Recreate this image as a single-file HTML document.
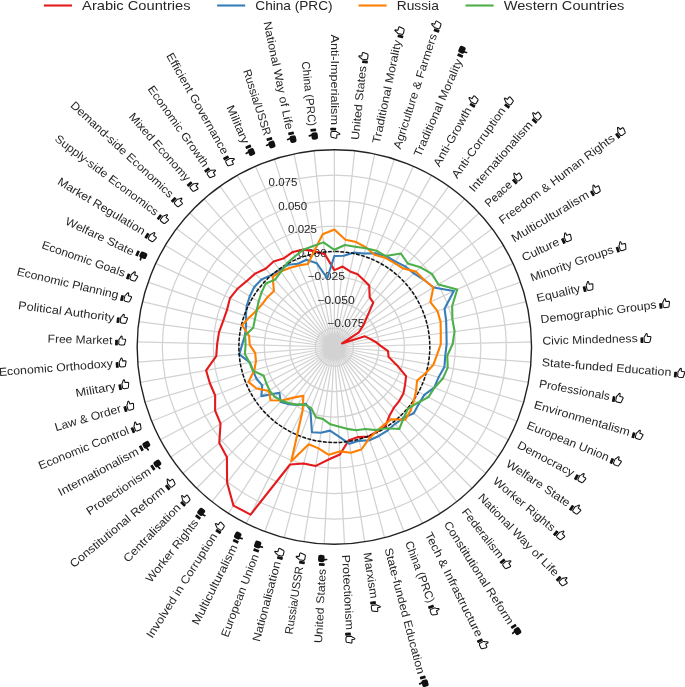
<!DOCTYPE html><html><head><meta charset="utf-8"><style>html,body{margin:0;padding:0;background:#fff;overflow:hidden}svg{display:block;font-family:"Liberation Sans", sans-serif;will-change:transform}</style></head><body><svg width="685" height="687" viewBox="0 0 685 687">
<rect width="685" height="687" fill="#fff"/>
<path d="M334.35,347.00L334.35,149.80M334.35,347.00L354.63,150.85M334.35,347.00L374.69,153.97M334.35,347.00L394.32,159.14M334.35,347.00L413.32,166.30M334.35,347.00L431.48,175.38M334.35,347.00L448.61,186.28M334.35,347.00L464.53,198.88M334.35,347.00L479.07,213.05M334.35,347.00L492.08,228.64M334.35,347.00L503.41,245.48M334.35,347.00L512.95,263.40M334.35,347.00L520.60,282.21M334.35,347.00L526.28,301.71M334.35,347.00L529.92,321.68M334.35,347.00L531.48,341.92M334.35,347.00L530.96,362.22M334.35,347.00L528.35,382.35M334.35,347.00L523.69,402.11M334.35,347.00L517.02,421.29M334.35,347.00L508.41,439.68M334.35,347.00L497.96,457.09M334.35,347.00L485.78,473.32M334.35,347.00L471.98,488.23M334.35,347.00L456.73,501.63M334.35,347.00L440.19,513.39M334.35,347.00L422.52,523.39M334.35,347.00L403.91,531.52M334.35,347.00L384.57,537.70M334.35,347.00L364.70,541.85M334.35,347.00L344.50,543.94M334.35,347.00L324.20,543.94M334.35,347.00L304.00,541.85M334.35,347.00L284.13,537.70M334.35,347.00L264.79,531.52M334.35,347.00L246.18,523.39M334.35,347.00L228.51,513.39M334.35,347.00L211.97,501.63M334.35,347.00L196.72,488.23M334.35,347.00L182.92,473.32M334.35,347.00L170.74,457.09M334.35,347.00L160.29,439.68M334.35,347.00L151.68,421.29M334.35,347.00L145.01,402.11M334.35,347.00L140.35,382.35M334.35,347.00L137.74,362.22M334.35,347.00L137.22,341.92M334.35,347.00L138.78,321.68M334.35,347.00L142.42,301.71M334.35,347.00L148.10,282.21M334.35,347.00L155.75,263.40M334.35,347.00L165.29,245.48M334.35,347.00L176.62,228.64M334.35,347.00L189.63,213.05M334.35,347.00L204.17,198.88M334.35,347.00L220.09,186.28M334.35,347.00L237.22,175.38M334.35,347.00L255.38,166.30M334.35,347.00L274.38,159.14M334.35,347.00L294.01,153.97M334.35,347.00L314.07,150.85" stroke="#d2d2d2" stroke-width="1.25" fill="none"/>
<circle cx="334.35" cy="347.0" r="19.00" stroke="#d2d2d2" stroke-width="1.25" fill="none"/>
<circle cx="334.35" cy="347.0" r="44.50" stroke="#d2d2d2" stroke-width="1.25" fill="none"/>
<circle cx="334.35" cy="347.0" r="70.00" stroke="#d2d2d2" stroke-width="1.25" fill="none"/>
<circle cx="334.35" cy="347.0" r="95.50" stroke="#d2d2d2" stroke-width="1.25" fill="none"/>
<circle cx="334.35" cy="347.0" r="121.00" stroke="#d2d2d2" stroke-width="1.25" fill="none"/>
<circle cx="334.35" cy="347.0" r="146.50" stroke="#d2d2d2" stroke-width="1.25" fill="none"/>
<circle cx="334.35" cy="347.0" r="172.00" stroke="#d2d2d2" stroke-width="1.25" fill="none"/>
<text x="327.08" y="327.35" font-size="10.5" textLength="37.38" lengthAdjust="spacingAndGlyphs" fill="#262626">−0.075</text>
<text x="317.32" y="303.79" font-size="10.5" textLength="37.38" lengthAdjust="spacingAndGlyphs" fill="#262626">−0.050</text>
<text x="307.56" y="280.23" font-size="10.5" textLength="37.38" lengthAdjust="spacingAndGlyphs" fill="#262626">−0.025</text>
<text x="297.80" y="256.67" font-size="10.5" textLength="28.91" lengthAdjust="spacingAndGlyphs" fill="#262626">0.000</text>
<text x="288.05" y="233.11" font-size="10.5" textLength="28.91" lengthAdjust="spacingAndGlyphs" fill="#262626">0.025</text>
<text x="278.29" y="209.55" font-size="10.5" textLength="28.91" lengthAdjust="spacingAndGlyphs" fill="#262626">0.050</text>
<text x="268.53" y="185.99" font-size="10.5" textLength="28.91" lengthAdjust="spacingAndGlyphs" fill="#262626">0.075</text>
<path d="M334.35,270.12 L342.67,266.51 L350.14,271.45 L357.61,274.15 L363.66,279.94 L369.20,285.42 L369.68,297.31 L373.28,302.70 L367.15,316.64 L363.37,325.22 L358.86,332.28 L342.00,343.42 L364.89,336.37 L369.62,338.68 L375.19,341.71 L380.68,345.81 L388.05,351.16 L388.56,356.88 L396.88,365.20 L406.08,376.17 L405.08,384.66 L403.43,393.48 L399.15,401.06 L393.75,407.95 L389.20,416.30 L385.11,426.81 L376.68,431.69 L368.14,436.64 L358.08,437.10 L348.86,440.14 L339.89,454.46 L328.55,459.56 L315.83,465.92 L303.68,463.45 L290.05,464.52 L250.58,514.59 L233.46,505.62 L227.07,482.54 L226.93,457.22 L219.26,443.01 L220.53,423.58 L215.10,410.50 L215.15,395.48 L209.88,383.23 L206.11,370.37 L216.25,356.14 L217.15,343.98 L219.03,332.07 L223.21,320.77 L227.04,309.67 L230.00,298.16 L237.45,288.81 L246.61,281.16 L255.08,273.63 L265.55,268.71 L273.61,261.56 L284.10,258.22 L292.80,251.93 L303.26,249.61 L314.32,251.14 L324.75,254.12 Z" stroke="#e41a1c" stroke-width="2.1" fill="none" stroke-linejoin="round"/>
<path d="M334.35,256.04 L343.78,255.77 L354.08,252.59 L364.21,253.47 L375.26,253.39 L385.84,256.02 L395.16,261.47 L405.16,266.43 L413.90,273.37 L423.92,279.79 L433.51,287.46 L453.83,291.08 L444.54,308.67 L446.15,320.61 L446.44,332.49 L446.63,344.11 L445.30,355.59 L444.40,367.05 L438.57,377.34 L434.18,387.60 L424.33,394.91 L418.84,403.85 L413.76,413.25 L403.41,417.86 L395.15,423.81 L387.50,430.55 L378.83,435.98 L369.49,440.20 L359.06,440.85 L349.42,443.77 L338.98,436.74 L330.04,430.64 L321.00,432.69 L311.91,432.22 L310.42,410.48 L305.99,403.75 L297.55,404.85 L289.09,404.19 L280.71,402.04 L279.42,392.82 L261.35,396.12 L262.26,385.38 L256.43,378.69 L252.99,370.68 L249.80,362.41 L239.32,354.36 L242.12,344.62 L244.94,335.42 L246.10,326.17 L245.87,316.22 L246.69,305.97 L249.76,296.20 L254.30,286.93 L261.47,279.55 L271.17,275.11 L279.74,270.18 L287.84,264.81 L297.98,263.78 L306.47,259.68 L316.86,263.33 L327.24,278.24 Z" stroke="#377eb8" stroke-width="2.1" fill="none" stroke-linejoin="round"/>
<path d="M334.35,251.50 A95.50,95.50 0 0 1 334.35,442.50 A95.50,95.50 0 0 1 334.35,251.50" stroke="#111" stroke-width="1.5" fill="none" stroke-dasharray="3.7 1.583" stroke-dashoffset="-0.81"/>
<path d="M334.35,229.54 L345.43,239.78 L356.27,242.09 L366.12,247.48 L374.65,254.78 L384.92,257.64 L394.10,262.95 L403.35,268.50 L415.79,271.62 L424.00,279.73 L433.34,287.56 L430.38,302.05 L437.50,311.12 L440.62,321.92 L440.75,333.22 L440.79,344.26 L437.01,354.95 L433.26,365.03 L425.33,373.48 L417.05,380.63 L416.13,390.55 L414.00,400.59 L410.56,410.58 L405.27,419.77 L391.48,419.18 L383.90,424.90 L376.47,431.27 L368.97,438.84 L361.34,449.49 L350.82,452.78 L339.73,451.38 L328.79,454.81 L318.56,448.40 L308.75,444.20 L291.29,461.23 L302.61,410.50 L303.39,395.68 L294.48,397.38 L282.18,400.53 L270.54,400.23 L268.96,391.00 L256.43,388.49 L248.45,381.93 L254.33,370.29 L255.96,361.28 L255.24,353.12 L249.70,344.82 L249.15,335.97 L242.08,325.22 L249.25,317.40 L256.47,310.55 L262.46,303.83 L267.64,296.94 L273.94,291.09 L272.62,276.76 L280.61,271.41 L289.63,267.98 L298.69,265.41 L307.83,263.92 L314.31,251.09 L322.69,234.19 Z" stroke="#ff7f00" stroke-width="2.1" fill="none" stroke-linejoin="round"/>
<path d="M334.35,249.78 L344.90,244.97 L355.29,246.80 L365.88,248.24 L376.40,250.78 L385.83,256.05 L400.81,253.52 L407.73,263.51 L420.42,267.34 L431.89,273.81 L438.53,284.44 L457.23,289.48 L452.17,306.02 L452.40,319.14 L454.60,331.43 L452.64,343.95 L447.27,355.74 L447.72,367.66 L442.81,378.57 L434.51,387.73 L428.41,397.08 L417.52,402.96 L408.13,408.55 L403.61,418.06 L399.26,429.01 L386.03,428.25 L375.88,430.09 L365.28,429.05 L356.29,430.33 L347.10,428.84 L338.45,426.47 L330.36,424.33 L323.12,419.09 L315.83,417.33 L311.32,408.10 L305.41,404.90 L297.67,404.67 L289.76,403.34 L281.87,400.85 L274.71,396.75 L269.62,390.55 L266.31,383.23 L263.71,375.73 L252.99,370.68 L249.43,362.48 L244.89,353.92 L245.58,344.71 L245.08,335.44 L253.22,327.85 L254.86,319.35 L256.70,310.65 L258.58,301.50 L261.59,292.40 L265.72,283.48 L275.14,279.62 L280.94,271.88 L286.95,263.25 L294.79,256.47 L303.29,249.69 L313.25,246.04 L323.54,242.38 Z" stroke="#4daf4a" stroke-width="2.1" fill="none" stroke-linejoin="round"/>
<circle cx="334.35" cy="347.0" r="197.20" stroke="#222" stroke-width="1.4" fill="none"/>
<g transform="translate(334.35,347.0) rotate(-270.000)"><text x="-312.53" y="3.0" font-size="11.4" textLength="90.43" lengthAdjust="spacingAndGlyphs" fill="#262626">Anti-Imperialism</text><g transform="translate(-219.50,3.0)"><rect x="0.2" y="-4.7" width="2.8" height="5.7" rx="0.5" fill="#111"/><path d="M3.9,-4.9 L4.6,-5.8 L5.9,-8.1 Q6.5,-8.9 7.0,-8.2 L7.2,-5.5 L10.1,-5.4 Q10.9,-5.2 10.7,-4.4 L9.7,-0.3 Q9.4,0.5 8.6,0.5 L5.3,0.5 L3.9,-0.3 Z" fill="#fff" stroke="#111" stroke-width="1.05" stroke-linejoin="round"/></g></g>
<g transform="translate(334.35,347.0) rotate(-84.098)"><text x="208.10" y="3.0" font-size="11.4" textLength="74.49" lengthAdjust="spacingAndGlyphs" fill="#262626">United States</text><g transform="translate(285.19,3.0)"><rect x="0.2" y="-4.7" width="2.8" height="5.7" rx="0.5" fill="#111"/><path d="M3.9,-4.9 L4.6,-5.8 L5.9,-8.1 Q6.5,-8.9 7.0,-8.2 L7.2,-5.5 L10.1,-5.4 Q10.9,-5.2 10.7,-4.4 L9.7,-0.3 Q9.4,0.5 8.6,0.5 L5.3,0.5 L3.9,-0.3 Z" fill="#fff" stroke="#111" stroke-width="1.05" stroke-linejoin="round"/></g></g>
<g transform="translate(334.35,347.0) rotate(-78.197)"><text x="208.10" y="3.0" font-size="11.4" textLength="105.19" lengthAdjust="spacingAndGlyphs" fill="#262626">Traditional Morality</text><g transform="translate(315.89,3.0)"><rect x="0.2" y="-4.7" width="2.8" height="5.7" rx="0.5" fill="#111"/><path d="M3.9,-4.9 L4.6,-5.8 L5.9,-8.1 Q6.5,-8.9 7.0,-8.2 L7.2,-5.5 L10.1,-5.4 Q10.9,-5.2 10.7,-4.4 L9.7,-0.3 Q9.4,0.5 8.6,0.5 L5.3,0.5 L3.9,-0.3 Z" fill="#fff" stroke="#111" stroke-width="1.05" stroke-linejoin="round"/></g></g>
<g transform="translate(334.35,347.0) rotate(-72.295)"><text x="208.10" y="3.0" font-size="11.4" textLength="120.19" lengthAdjust="spacingAndGlyphs" fill="#262626">Agriculture &amp; Farmers</text><g transform="translate(330.89,3.0)"><rect x="0.2" y="-4.7" width="2.8" height="5.7" rx="0.5" fill="#111"/><path d="M3.9,-4.9 L4.6,-5.8 L5.9,-8.1 Q6.5,-8.9 7.0,-8.2 L7.2,-5.5 L10.1,-5.4 Q10.9,-5.2 10.7,-4.4 L9.7,-0.3 Q9.4,0.5 8.6,0.5 L5.3,0.5 L3.9,-0.3 Z" fill="#fff" stroke="#111" stroke-width="1.05" stroke-linejoin="round"/></g></g>
<g transform="translate(334.35,347.0) rotate(-66.393)"><text x="208.10" y="3.0" font-size="11.4" textLength="105.19" lengthAdjust="spacingAndGlyphs" fill="#262626">Traditional Morality</text><g transform="translate(315.89,3.0)"><rect x="0.2" y="-7.2" width="2.8" height="5.7" rx="0.5" fill="#111"/><rect x="4.0" y="-8.3" width="7.2" height="6.4" rx="2.0" fill="#111"/><path d="M6.3,-3.0 L6.9,0.2" stroke="#111" stroke-width="1.7" stroke-linecap="round"/></g></g>
<g transform="translate(334.35,347.0) rotate(-60.492)"><text x="208.10" y="3.0" font-size="11.4" textLength="66.06" lengthAdjust="spacingAndGlyphs" fill="#262626">Anti-Growth</text><g transform="translate(276.76,3.0)"><rect x="0.2" y="-4.7" width="2.8" height="5.7" rx="0.5" fill="#111"/><path d="M3.9,-4.9 L4.6,-5.8 L5.9,-8.1 Q6.5,-8.9 7.0,-8.2 L7.2,-5.5 L10.1,-5.4 Q10.9,-5.2 10.7,-4.4 L9.7,-0.3 Q9.4,0.5 8.6,0.5 L5.3,0.5 L3.9,-0.3 Z" fill="#fff" stroke="#111" stroke-width="1.05" stroke-linejoin="round"/></g></g>
<g transform="translate(334.35,347.0) rotate(-54.590)"><text x="208.10" y="3.0" font-size="11.4" textLength="84.12" lengthAdjust="spacingAndGlyphs" fill="#262626">Anti-Corruption</text><g transform="translate(294.82,3.0)"><rect x="0.2" y="-4.7" width="2.8" height="5.7" rx="0.5" fill="#111"/><path d="M3.9,-4.9 L4.6,-5.8 L5.9,-8.1 Q6.5,-8.9 7.0,-8.2 L7.2,-5.5 L10.1,-5.4 Q10.9,-5.2 10.7,-4.4 L9.7,-0.3 Q9.4,0.5 8.6,0.5 L5.3,0.5 L3.9,-0.3 Z" fill="#fff" stroke="#111" stroke-width="1.05" stroke-linejoin="round"/></g></g>
<g transform="translate(334.35,347.0) rotate(-48.689)"><text x="208.10" y="3.0" font-size="11.4" textLength="89.71" lengthAdjust="spacingAndGlyphs" fill="#262626">Internationalism</text><g transform="translate(300.41,3.0)"><rect x="0.2" y="-4.7" width="2.8" height="5.7" rx="0.5" fill="#111"/><path d="M3.9,-4.9 L4.6,-5.8 L5.9,-8.1 Q6.5,-8.9 7.0,-8.2 L7.2,-5.5 L10.1,-5.4 Q10.9,-5.2 10.7,-4.4 L9.7,-0.3 Q9.4,0.5 8.6,0.5 L5.3,0.5 L3.9,-0.3 Z" fill="#fff" stroke="#111" stroke-width="1.05" stroke-linejoin="round"/></g></g>
<g transform="translate(334.35,347.0) rotate(-42.787)"><text x="208.10" y="3.0" font-size="11.4" textLength="32.57" lengthAdjust="spacingAndGlyphs" fill="#262626">Peace</text><g transform="translate(243.27,3.0)"><rect x="0.2" y="-4.7" width="2.8" height="5.7" rx="0.5" fill="#111"/><path d="M3.9,-4.9 L4.6,-5.8 L5.9,-8.1 Q6.5,-8.9 7.0,-8.2 L7.2,-5.5 L10.1,-5.4 Q10.9,-5.2 10.7,-4.4 L9.7,-0.3 Q9.4,0.5 8.6,0.5 L5.3,0.5 L3.9,-0.3 Z" fill="#fff" stroke="#111" stroke-width="1.05" stroke-linejoin="round"/></g></g>
<g transform="translate(334.35,347.0) rotate(-36.885)"><text x="208.10" y="3.0" font-size="11.4" textLength="141.21" lengthAdjust="spacingAndGlyphs" fill="#262626">Freedom &amp; Human Rights</text><g transform="translate(351.91,3.0)"><rect x="0.2" y="-4.7" width="2.8" height="5.7" rx="0.5" fill="#111"/><path d="M3.9,-4.9 L4.6,-5.8 L5.9,-8.1 Q6.5,-8.9 7.0,-8.2 L7.2,-5.5 L10.1,-5.4 Q10.9,-5.2 10.7,-4.4 L9.7,-0.3 Q9.4,0.5 8.6,0.5 L5.3,0.5 L3.9,-0.3 Z" fill="#fff" stroke="#111" stroke-width="1.05" stroke-linejoin="round"/></g></g>
<g transform="translate(334.35,347.0) rotate(-30.984)"><text x="208.10" y="3.0" font-size="11.4" textLength="88.07" lengthAdjust="spacingAndGlyphs" fill="#262626">Multiculturalism</text><g transform="translate(298.77,3.0)"><rect x="0.2" y="-4.7" width="2.8" height="5.7" rx="0.5" fill="#111"/><path d="M3.9,-4.9 L4.6,-5.8 L5.9,-8.1 Q6.5,-8.9 7.0,-8.2 L7.2,-5.5 L10.1,-5.4 Q10.9,-5.2 10.7,-4.4 L9.7,-0.3 Q9.4,0.5 8.6,0.5 L5.3,0.5 L3.9,-0.3 Z" fill="#fff" stroke="#111" stroke-width="1.05" stroke-linejoin="round"/></g></g>
<g transform="translate(334.35,347.0) rotate(-25.082)"><text x="208.10" y="3.0" font-size="11.4" textLength="40.04" lengthAdjust="spacingAndGlyphs" fill="#262626">Culture</text><g transform="translate(250.74,3.0)"><rect x="0.2" y="-4.7" width="2.8" height="5.7" rx="0.5" fill="#111"/><path d="M3.9,-4.9 L4.6,-5.8 L5.9,-8.1 Q6.5,-8.9 7.0,-8.2 L7.2,-5.5 L10.1,-5.4 Q10.9,-5.2 10.7,-4.4 L9.7,-0.3 Q9.4,0.5 8.6,0.5 L5.3,0.5 L3.9,-0.3 Z" fill="#fff" stroke="#111" stroke-width="1.05" stroke-linejoin="round"/></g></g>
<g transform="translate(334.35,347.0) rotate(-19.180)"><text x="208.10" y="3.0" font-size="11.4" textLength="87.37" lengthAdjust="spacingAndGlyphs" fill="#262626">Minority Groups</text><g transform="translate(298.07,3.0)"><rect x="0.2" y="-4.7" width="2.8" height="5.7" rx="0.5" fill="#111"/><path d="M3.9,-4.9 L4.6,-5.8 L5.9,-8.1 Q6.5,-8.9 7.0,-8.2 L7.2,-5.5 L10.1,-5.4 Q10.9,-5.2 10.7,-4.4 L9.7,-0.3 Q9.4,0.5 8.6,0.5 L5.3,0.5 L3.9,-0.3 Z" fill="#fff" stroke="#111" stroke-width="1.05" stroke-linejoin="round"/></g></g>
<g transform="translate(334.35,347.0) rotate(-13.279)"><text x="208.10" y="3.0" font-size="11.4" textLength="44.58" lengthAdjust="spacingAndGlyphs" fill="#262626">Equality</text><g transform="translate(255.28,3.0)"><rect x="0.2" y="-4.7" width="2.8" height="5.7" rx="0.5" fill="#111"/><path d="M3.9,-4.9 L4.6,-5.8 L5.9,-8.1 Q6.5,-8.9 7.0,-8.2 L7.2,-5.5 L10.1,-5.4 Q10.9,-5.2 10.7,-4.4 L9.7,-0.3 Q9.4,0.5 8.6,0.5 L5.3,0.5 L3.9,-0.3 Z" fill="#fff" stroke="#111" stroke-width="1.05" stroke-linejoin="round"/></g></g>
<g transform="translate(334.35,347.0) rotate(-7.377)"><text x="208.10" y="3.0" font-size="11.4" textLength="116.71" lengthAdjust="spacingAndGlyphs" fill="#262626">Demographic Groups</text><g transform="translate(327.41,3.0)"><rect x="0.2" y="-4.7" width="2.8" height="5.7" rx="0.5" fill="#111"/><path d="M3.9,-4.9 L4.6,-5.8 L5.9,-8.1 Q6.5,-8.9 7.0,-8.2 L7.2,-5.5 L10.1,-5.4 Q10.9,-5.2 10.7,-4.4 L9.7,-0.3 Q9.4,0.5 8.6,0.5 L5.3,0.5 L3.9,-0.3 Z" fill="#fff" stroke="#111" stroke-width="1.05" stroke-linejoin="round"/></g></g>
<g transform="translate(334.35,347.0) rotate(-1.475)"><text x="208.10" y="3.0" font-size="11.4" textLength="95.30" lengthAdjust="spacingAndGlyphs" fill="#262626">Civic Mindedness</text><g transform="translate(306.00,3.0)"><rect x="0.2" y="-4.7" width="2.8" height="5.7" rx="0.5" fill="#111"/><path d="M3.9,-4.9 L4.6,-5.8 L5.9,-8.1 Q6.5,-8.9 7.0,-8.2 L7.2,-5.5 L10.1,-5.4 Q10.9,-5.2 10.7,-4.4 L9.7,-0.3 Q9.4,0.5 8.6,0.5 L5.3,0.5 L3.9,-0.3 Z" fill="#fff" stroke="#111" stroke-width="1.05" stroke-linejoin="round"/></g></g>
<g transform="translate(334.35,347.0) rotate(4.426)"><text x="208.10" y="3.0" font-size="11.4" textLength="129.90" lengthAdjust="spacingAndGlyphs" fill="#262626">State-funded Education</text><g transform="translate(340.60,3.0)"><rect x="0.2" y="-4.7" width="2.8" height="5.7" rx="0.5" fill="#111"/><path d="M3.9,-4.9 L4.6,-5.8 L5.9,-8.1 Q6.5,-8.9 7.0,-8.2 L7.2,-5.5 L10.1,-5.4 Q10.9,-5.2 10.7,-4.4 L9.7,-0.3 Q9.4,0.5 8.6,0.5 L5.3,0.5 L3.9,-0.3 Z" fill="#fff" stroke="#111" stroke-width="1.05" stroke-linejoin="round"/></g></g>
<g transform="translate(334.35,347.0) rotate(10.328)"><text x="208.10" y="3.0" font-size="11.4" textLength="71.84" lengthAdjust="spacingAndGlyphs" fill="#262626">Professionals</text><g transform="translate(282.54,3.0)"><rect x="0.2" y="-4.7" width="2.8" height="5.7" rx="0.5" fill="#111"/><path d="M3.9,-4.9 L4.6,-5.8 L5.9,-8.1 Q6.5,-8.9 7.0,-8.2 L7.2,-5.5 L10.1,-5.4 Q10.9,-5.2 10.7,-4.4 L9.7,-0.3 Q9.4,0.5 8.6,0.5 L5.3,0.5 L3.9,-0.3 Z" fill="#fff" stroke="#111" stroke-width="1.05" stroke-linejoin="round"/></g></g>
<g transform="translate(334.35,347.0) rotate(16.230)"><text x="208.10" y="3.0" font-size="11.4" textLength="99.54" lengthAdjust="spacingAndGlyphs" fill="#262626">Environmentalism</text><g transform="translate(310.24,3.0)"><rect x="0.2" y="-4.7" width="2.8" height="5.7" rx="0.5" fill="#111"/><path d="M3.9,-4.9 L4.6,-5.8 L5.9,-8.1 Q6.5,-8.9 7.0,-8.2 L7.2,-5.5 L10.1,-5.4 Q10.9,-5.2 10.7,-4.4 L9.7,-0.3 Q9.4,0.5 8.6,0.5 L5.3,0.5 L3.9,-0.3 Z" fill="#fff" stroke="#111" stroke-width="1.05" stroke-linejoin="round"/></g></g>
<g transform="translate(334.35,347.0) rotate(22.131)"><text x="208.10" y="3.0" font-size="11.4" textLength="87.67" lengthAdjust="spacingAndGlyphs" fill="#262626">European Union</text><g transform="translate(298.37,3.0)"><rect x="0.2" y="-4.7" width="2.8" height="5.7" rx="0.5" fill="#111"/><path d="M3.9,-4.9 L4.6,-5.8 L5.9,-8.1 Q6.5,-8.9 7.0,-8.2 L7.2,-5.5 L10.1,-5.4 Q10.9,-5.2 10.7,-4.4 L9.7,-0.3 Q9.4,0.5 8.6,0.5 L5.3,0.5 L3.9,-0.3 Z" fill="#fff" stroke="#111" stroke-width="1.05" stroke-linejoin="round"/></g></g>
<g transform="translate(334.35,347.0) rotate(28.033)"><text x="208.10" y="3.0" font-size="11.4" textLength="62.55" lengthAdjust="spacingAndGlyphs" fill="#262626">Democracy</text><g transform="translate(273.25,3.0)"><rect x="0.2" y="-4.7" width="2.8" height="5.7" rx="0.5" fill="#111"/><path d="M3.9,-4.9 L4.6,-5.8 L5.9,-8.1 Q6.5,-8.9 7.0,-8.2 L7.2,-5.5 L10.1,-5.4 Q10.9,-5.2 10.7,-4.4 L9.7,-0.3 Q9.4,0.5 8.6,0.5 L5.3,0.5 L3.9,-0.3 Z" fill="#fff" stroke="#111" stroke-width="1.05" stroke-linejoin="round"/></g></g>
<g transform="translate(334.35,347.0) rotate(33.934)"><text x="208.10" y="3.0" font-size="11.4" textLength="74.33" lengthAdjust="spacingAndGlyphs" fill="#262626">Welfare State</text><g transform="translate(285.03,3.0)"><rect x="0.2" y="-4.7" width="2.8" height="5.7" rx="0.5" fill="#111"/><path d="M3.9,-4.9 L4.6,-5.8 L5.9,-8.1 Q6.5,-8.9 7.0,-8.2 L7.2,-5.5 L10.1,-5.4 Q10.9,-5.2 10.7,-4.4 L9.7,-0.3 Q9.4,0.5 8.6,0.5 L5.3,0.5 L3.9,-0.3 Z" fill="#fff" stroke="#111" stroke-width="1.05" stroke-linejoin="round"/></g></g>
<g transform="translate(334.35,347.0) rotate(39.836)"><text x="208.10" y="3.0" font-size="11.4" textLength="76.95" lengthAdjust="spacingAndGlyphs" fill="#262626">Worker Rights</text><g transform="translate(287.65,3.0)"><rect x="0.2" y="-4.7" width="2.8" height="5.7" rx="0.5" fill="#111"/><path d="M3.9,-4.9 L4.6,-5.8 L5.9,-8.1 Q6.5,-8.9 7.0,-8.2 L7.2,-5.5 L10.1,-5.4 Q10.9,-5.2 10.7,-4.4 L9.7,-0.3 Q9.4,0.5 8.6,0.5 L5.3,0.5 L3.9,-0.3 Z" fill="#fff" stroke="#111" stroke-width="1.05" stroke-linejoin="round"/></g></g>
<g transform="translate(334.35,347.0) rotate(45.738)"><text x="208.10" y="3.0" font-size="11.4" textLength="110.18" lengthAdjust="spacingAndGlyphs" fill="#262626">National Way of Life</text><g transform="translate(320.88,3.0)"><rect x="0.2" y="-4.7" width="2.8" height="5.7" rx="0.5" fill="#111"/><path d="M3.9,-4.9 L4.6,-5.8 L5.9,-8.1 Q6.5,-8.9 7.0,-8.2 L7.2,-5.5 L10.1,-5.4 Q10.9,-5.2 10.7,-4.4 L9.7,-0.3 Q9.4,0.5 8.6,0.5 L5.3,0.5 L3.9,-0.3 Z" fill="#fff" stroke="#111" stroke-width="1.05" stroke-linejoin="round"/></g></g>
<g transform="translate(334.35,347.0) rotate(51.639)"><text x="208.10" y="3.0" font-size="11.4" textLength="60.07" lengthAdjust="spacingAndGlyphs" fill="#262626">Federalism</text><g transform="translate(270.77,3.0)"><rect x="0.2" y="-4.7" width="2.8" height="5.7" rx="0.5" fill="#111"/><path d="M3.9,-4.9 L4.6,-5.8 L5.9,-8.1 Q6.5,-8.9 7.0,-8.2 L7.2,-5.5 L10.1,-5.4 Q10.9,-5.2 10.7,-4.4 L9.7,-0.3 Q9.4,0.5 8.6,0.5 L5.3,0.5 L3.9,-0.3 Z" fill="#fff" stroke="#111" stroke-width="1.05" stroke-linejoin="round"/></g></g>
<g transform="translate(334.35,347.0) rotate(57.541)"><text x="208.10" y="3.0" font-size="11.4" textLength="119.70" lengthAdjust="spacingAndGlyphs" fill="#262626">Constitutional Reform</text><g transform="translate(330.40,3.0)"><rect x="0.2" y="-7.2" width="2.8" height="5.7" rx="0.5" fill="#111"/><rect x="4.0" y="-8.3" width="7.2" height="6.4" rx="2.0" fill="#111"/><path d="M6.3,-3.0 L6.9,0.2" stroke="#111" stroke-width="1.7" stroke-linecap="round"/></g></g>
<g transform="translate(334.35,347.0) rotate(63.443)"><text x="208.10" y="3.0" font-size="11.4" textLength="115.48" lengthAdjust="spacingAndGlyphs" fill="#262626">Tech &amp; Infrastructure</text><g transform="translate(326.18,3.0)"><rect x="0.2" y="-4.7" width="2.8" height="5.7" rx="0.5" fill="#111"/><path d="M3.9,-4.9 L4.6,-5.8 L5.9,-8.1 Q6.5,-8.9 7.0,-8.2 L7.2,-5.5 L10.1,-5.4 Q10.9,-5.2 10.7,-4.4 L9.7,-0.3 Q9.4,0.5 8.6,0.5 L5.3,0.5 L3.9,-0.3 Z" fill="#fff" stroke="#111" stroke-width="1.05" stroke-linejoin="round"/></g></g>
<g transform="translate(334.35,347.0) rotate(69.344)"><text x="208.10" y="3.0" font-size="11.4" textLength="64.91" lengthAdjust="spacingAndGlyphs" fill="#262626">China (PRC)</text><g transform="translate(275.61,3.0)"><rect x="0.2" y="-4.7" width="2.8" height="5.7" rx="0.5" fill="#111"/><path d="M3.9,-4.9 L4.6,-5.8 L5.9,-8.1 Q6.5,-8.9 7.0,-8.2 L7.2,-5.5 L10.1,-5.4 Q10.9,-5.2 10.7,-4.4 L9.7,-0.3 Q9.4,0.5 8.6,0.5 L5.3,0.5 L3.9,-0.3 Z" fill="#fff" stroke="#111" stroke-width="1.05" stroke-linejoin="round"/></g></g>
<g transform="translate(334.35,347.0) rotate(75.246)"><text x="208.10" y="3.0" font-size="11.4" textLength="129.90" lengthAdjust="spacingAndGlyphs" fill="#262626">State-funded Education</text><g transform="translate(340.60,3.0)"><rect x="0.2" y="-7.2" width="2.8" height="5.7" rx="0.5" fill="#111"/><rect x="4.0" y="-8.3" width="7.2" height="6.4" rx="2.0" fill="#111"/><path d="M6.3,-3.0 L6.9,0.2" stroke="#111" stroke-width="1.7" stroke-linecap="round"/></g></g>
<g transform="translate(334.35,347.0) rotate(81.148)"><text x="208.10" y="3.0" font-size="11.4" textLength="46.47" lengthAdjust="spacingAndGlyphs" fill="#262626">Marxism</text><g transform="translate(257.17,3.0)"><rect x="0.2" y="-4.7" width="2.8" height="5.7" rx="0.5" fill="#111"/><path d="M3.9,-4.9 L4.6,-5.8 L5.9,-8.1 Q6.5,-8.9 7.0,-8.2 L7.2,-5.5 L10.1,-5.4 Q10.9,-5.2 10.7,-4.4 L9.7,-0.3 Q9.4,0.5 8.6,0.5 L5.3,0.5 L3.9,-0.3 Z" fill="#fff" stroke="#111" stroke-width="1.05" stroke-linejoin="round"/></g></g>
<g transform="translate(334.35,347.0) rotate(87.049)"><text x="208.10" y="3.0" font-size="11.4" textLength="75.15" lengthAdjust="spacingAndGlyphs" fill="#262626">Protectionism</text><g transform="translate(285.85,3.0)"><rect x="0.2" y="-4.7" width="2.8" height="5.7" rx="0.5" fill="#111"/><path d="M3.9,-4.9 L4.6,-5.8 L5.9,-8.1 Q6.5,-8.9 7.0,-8.2 L7.2,-5.5 L10.1,-5.4 Q10.9,-5.2 10.7,-4.4 L9.7,-0.3 Q9.4,0.5 8.6,0.5 L5.3,0.5 L3.9,-0.3 Z" fill="#fff" stroke="#111" stroke-width="1.05" stroke-linejoin="round"/></g></g>
<g transform="translate(334.35,347.0) rotate(-87.049)"><text x="-296.59" y="3.0" font-size="11.4" textLength="74.49" lengthAdjust="spacingAndGlyphs" fill="#262626">United States</text><g transform="translate(-219.50,3.0)"><rect x="0.2" y="-7.2" width="2.8" height="5.7" rx="0.5" fill="#111"/><rect x="4.0" y="-8.3" width="7.2" height="6.4" rx="2.0" fill="#111"/><path d="M6.3,-3.0 L6.9,0.2" stroke="#111" stroke-width="1.7" stroke-linecap="round"/></g></g>
<g transform="translate(334.35,347.0) rotate(-81.148)"><text x="-290.85" y="3.0" font-size="11.4" textLength="68.75" lengthAdjust="spacingAndGlyphs" fill="#262626">Russia/USSR</text><g transform="translate(-219.50,3.0)"><rect x="0.2" y="-4.7" width="2.8" height="5.7" rx="0.5" fill="#111"/><path d="M3.9,-4.9 L4.6,-5.8 L5.9,-8.1 Q6.5,-8.9 7.0,-8.2 L7.2,-5.5 L10.1,-5.4 Q10.9,-5.2 10.7,-4.4 L9.7,-0.3 Q9.4,0.5 8.6,0.5 L5.3,0.5 L3.9,-0.3 Z" fill="#fff" stroke="#111" stroke-width="1.05" stroke-linejoin="round"/></g></g>
<g transform="translate(334.35,347.0) rotate(-75.246)"><text x="-304.54" y="3.0" font-size="11.4" textLength="82.44" lengthAdjust="spacingAndGlyphs" fill="#262626">Nationalisation</text><g transform="translate(-219.50,3.0)"><rect x="0.2" y="-4.7" width="2.8" height="5.7" rx="0.5" fill="#111"/><path d="M3.9,-4.9 L4.6,-5.8 L5.9,-8.1 Q6.5,-8.9 7.0,-8.2 L7.2,-5.5 L10.1,-5.4 Q10.9,-5.2 10.7,-4.4 L9.7,-0.3 Q9.4,0.5 8.6,0.5 L5.3,0.5 L3.9,-0.3 Z" fill="#fff" stroke="#111" stroke-width="1.05" stroke-linejoin="round"/></g></g>
<g transform="translate(334.35,347.0) rotate(-69.344)"><text x="-309.77" y="3.0" font-size="11.4" textLength="87.67" lengthAdjust="spacingAndGlyphs" fill="#262626">European Union</text><g transform="translate(-219.50,3.0)"><rect x="0.2" y="-7.2" width="2.8" height="5.7" rx="0.5" fill="#111"/><rect x="4.0" y="-8.3" width="7.2" height="6.4" rx="2.0" fill="#111"/><path d="M6.3,-3.0 L6.9,0.2" stroke="#111" stroke-width="1.7" stroke-linecap="round"/></g></g>
<g transform="translate(334.35,347.0) rotate(-63.443)"><text x="-310.17" y="3.0" font-size="11.4" textLength="88.07" lengthAdjust="spacingAndGlyphs" fill="#262626">Multiculturalism</text><g transform="translate(-219.50,3.0)"><rect x="0.2" y="-7.2" width="2.8" height="5.7" rx="0.5" fill="#111"/><rect x="4.0" y="-8.3" width="7.2" height="6.4" rx="2.0" fill="#111"/><path d="M6.3,-3.0 L6.9,0.2" stroke="#111" stroke-width="1.7" stroke-linecap="round"/></g></g>
<g transform="translate(334.35,347.0) rotate(-57.541)"><text x="-344.18" y="3.0" font-size="11.4" textLength="122.08" lengthAdjust="spacingAndGlyphs" fill="#262626">Involved in Corruption</text><g transform="translate(-219.50,3.0)"><rect x="0.2" y="-4.7" width="2.8" height="5.7" rx="0.5" fill="#111"/><path d="M3.9,-4.9 L4.6,-5.8 L5.9,-8.1 Q6.5,-8.9 7.0,-8.2 L7.2,-5.5 L10.1,-5.4 Q10.9,-5.2 10.7,-4.4 L9.7,-0.3 Q9.4,0.5 8.6,0.5 L5.3,0.5 L3.9,-0.3 Z" fill="#fff" stroke="#111" stroke-width="1.05" stroke-linejoin="round"/></g></g>
<g transform="translate(334.35,347.0) rotate(-51.639)"><text x="-299.05" y="3.0" font-size="11.4" textLength="76.95" lengthAdjust="spacingAndGlyphs" fill="#262626">Worker Rights</text><g transform="translate(-219.50,3.0)"><rect x="0.2" y="-7.2" width="2.8" height="5.7" rx="0.5" fill="#111"/><rect x="4.0" y="-8.3" width="7.2" height="6.4" rx="2.0" fill="#111"/><path d="M6.3,-3.0 L6.9,0.2" stroke="#111" stroke-width="1.7" stroke-linecap="round"/></g></g>
<g transform="translate(334.35,347.0) rotate(-45.738)"><text x="-298.75" y="3.0" font-size="11.4" textLength="76.65" lengthAdjust="spacingAndGlyphs" fill="#262626">Centralisation</text><g transform="translate(-219.50,3.0)"><rect x="0.2" y="-4.7" width="2.8" height="5.7" rx="0.5" fill="#111"/><path d="M3.9,-4.9 L4.6,-5.8 L5.9,-8.1 Q6.5,-8.9 7.0,-8.2 L7.2,-5.5 L10.1,-5.4 Q10.9,-5.2 10.7,-4.4 L9.7,-0.3 Q9.4,0.5 8.6,0.5 L5.3,0.5 L3.9,-0.3 Z" fill="#fff" stroke="#111" stroke-width="1.05" stroke-linejoin="round"/></g></g>
<g transform="translate(334.35,347.0) rotate(-39.836)"><text x="-341.80" y="3.0" font-size="11.4" textLength="119.70" lengthAdjust="spacingAndGlyphs" fill="#262626">Constitutional Reform</text><g transform="translate(-219.50,3.0)"><rect x="0.2" y="-4.7" width="2.8" height="5.7" rx="0.5" fill="#111"/><path d="M3.9,-4.9 L4.6,-5.8 L5.9,-8.1 Q6.5,-8.9 7.0,-8.2 L7.2,-5.5 L10.1,-5.4 Q10.9,-5.2 10.7,-4.4 L9.7,-0.3 Q9.4,0.5 8.6,0.5 L5.3,0.5 L3.9,-0.3 Z" fill="#fff" stroke="#111" stroke-width="1.05" stroke-linejoin="round"/></g></g>
<g transform="translate(334.35,347.0) rotate(-33.934)"><text x="-297.25" y="3.0" font-size="11.4" textLength="75.15" lengthAdjust="spacingAndGlyphs" fill="#262626">Protectionism</text><g transform="translate(-219.50,3.0)"><rect x="0.2" y="-7.2" width="2.8" height="5.7" rx="0.5" fill="#111"/><rect x="4.0" y="-8.3" width="7.2" height="6.4" rx="2.0" fill="#111"/><path d="M6.3,-3.0 L6.9,0.2" stroke="#111" stroke-width="1.7" stroke-linecap="round"/></g></g>
<g transform="translate(334.35,347.0) rotate(-28.033)"><text x="-311.81" y="3.0" font-size="11.4" textLength="89.71" lengthAdjust="spacingAndGlyphs" fill="#262626">Internationalism</text><g transform="translate(-219.50,3.0)"><rect x="0.2" y="-7.2" width="2.8" height="5.7" rx="0.5" fill="#111"/><rect x="4.0" y="-8.3" width="7.2" height="6.4" rx="2.0" fill="#111"/><path d="M6.3,-3.0 L6.9,0.2" stroke="#111" stroke-width="1.7" stroke-linecap="round"/></g></g>
<g transform="translate(334.35,347.0) rotate(-22.131)"><text x="-318.61" y="3.0" font-size="11.4" textLength="96.51" lengthAdjust="spacingAndGlyphs" fill="#262626">Economic Control</text><g transform="translate(-219.50,3.0)"><rect x="0.2" y="-4.7" width="2.8" height="5.7" rx="0.5" fill="#111"/><path d="M3.9,-4.9 L4.6,-5.8 L5.9,-8.1 Q6.5,-8.9 7.0,-8.2 L7.2,-5.5 L10.1,-5.4 Q10.9,-5.2 10.7,-4.4 L9.7,-0.3 Q9.4,0.5 8.6,0.5 L5.3,0.5 L3.9,-0.3 Z" fill="#fff" stroke="#111" stroke-width="1.05" stroke-linejoin="round"/></g></g>
<g transform="translate(334.35,347.0) rotate(-16.230)"><text x="-290.80" y="3.0" font-size="11.4" textLength="68.70" lengthAdjust="spacingAndGlyphs" fill="#262626">Law &amp; Order</text><g transform="translate(-219.50,3.0)"><rect x="0.2" y="-4.7" width="2.8" height="5.7" rx="0.5" fill="#111"/><path d="M3.9,-4.9 L4.6,-5.8 L5.9,-8.1 Q6.5,-8.9 7.0,-8.2 L7.2,-5.5 L10.1,-5.4 Q10.9,-5.2 10.7,-4.4 L9.7,-0.3 Q9.4,0.5 8.6,0.5 L5.3,0.5 L3.9,-0.3 Z" fill="#fff" stroke="#111" stroke-width="1.05" stroke-linejoin="round"/></g></g>
<g transform="translate(334.35,347.0) rotate(-10.328)"><text x="-262.85" y="3.0" font-size="11.4" textLength="40.75" lengthAdjust="spacingAndGlyphs" fill="#262626">Military</text><g transform="translate(-219.50,3.0)"><rect x="0.2" y="-4.7" width="2.8" height="5.7" rx="0.5" fill="#111"/><path d="M3.9,-4.9 L4.6,-5.8 L5.9,-8.1 Q6.5,-8.9 7.0,-8.2 L7.2,-5.5 L10.1,-5.4 Q10.9,-5.2 10.7,-4.4 L9.7,-0.3 Q9.4,0.5 8.6,0.5 L5.3,0.5 L3.9,-0.3 Z" fill="#fff" stroke="#111" stroke-width="1.05" stroke-linejoin="round"/></g></g>
<g transform="translate(334.35,347.0) rotate(-4.426)"><text x="-336.44" y="3.0" font-size="11.4" textLength="114.34" lengthAdjust="spacingAndGlyphs" fill="#262626">Economic Orthodoxy</text><g transform="translate(-219.50,3.0)"><rect x="0.2" y="-4.7" width="2.8" height="5.7" rx="0.5" fill="#111"/><path d="M3.9,-4.9 L4.6,-5.8 L5.9,-8.1 Q6.5,-8.9 7.0,-8.2 L7.2,-5.5 L10.1,-5.4 Q10.9,-5.2 10.7,-4.4 L9.7,-0.3 Q9.4,0.5 8.6,0.5 L5.3,0.5 L3.9,-0.3 Z" fill="#fff" stroke="#111" stroke-width="1.05" stroke-linejoin="round"/></g></g>
<g transform="translate(334.35,347.0) rotate(1.475)"><text x="-286.75" y="3.0" font-size="11.4" textLength="64.65" lengthAdjust="spacingAndGlyphs" fill="#262626">Free Market</text><g transform="translate(-219.50,3.0)"><rect x="0.2" y="-4.7" width="2.8" height="5.7" rx="0.5" fill="#111"/><path d="M3.9,-4.9 L4.6,-5.8 L5.9,-8.1 Q6.5,-8.9 7.0,-8.2 L7.2,-5.5 L10.1,-5.4 Q10.9,-5.2 10.7,-4.4 L9.7,-0.3 Q9.4,0.5 8.6,0.5 L5.3,0.5 L3.9,-0.3 Z" fill="#fff" stroke="#111" stroke-width="1.05" stroke-linejoin="round"/></g></g>
<g transform="translate(334.35,347.0) rotate(7.377)"><text x="-318.81" y="3.0" font-size="11.4" textLength="96.71" lengthAdjust="spacingAndGlyphs" fill="#262626">Political Authority</text><g transform="translate(-219.50,3.0)"><rect x="0.2" y="-4.7" width="2.8" height="5.7" rx="0.5" fill="#111"/><path d="M3.9,-4.9 L4.6,-5.8 L5.9,-8.1 Q6.5,-8.9 7.0,-8.2 L7.2,-5.5 L10.1,-5.4 Q10.9,-5.2 10.7,-4.4 L9.7,-0.3 Q9.4,0.5 8.6,0.5 L5.3,0.5 L3.9,-0.3 Z" fill="#fff" stroke="#111" stroke-width="1.05" stroke-linejoin="round"/></g></g>
<g transform="translate(334.35,347.0) rotate(13.279)"><text x="-326.23" y="3.0" font-size="11.4" textLength="104.13" lengthAdjust="spacingAndGlyphs" fill="#262626">Economic Planning</text><g transform="translate(-219.50,3.0)"><rect x="0.2" y="-4.7" width="2.8" height="5.7" rx="0.5" fill="#111"/><path d="M3.9,-4.9 L4.6,-5.8 L5.9,-8.1 Q6.5,-8.9 7.0,-8.2 L7.2,-5.5 L10.1,-5.4 Q10.9,-5.2 10.7,-4.4 L9.7,-0.3 Q9.4,0.5 8.6,0.5 L5.3,0.5 L3.9,-0.3 Z" fill="#fff" stroke="#111" stroke-width="1.05" stroke-linejoin="round"/></g></g>
<g transform="translate(334.35,347.0) rotate(19.180)"><text x="-309.63" y="3.0" font-size="11.4" textLength="87.53" lengthAdjust="spacingAndGlyphs" fill="#262626">Economic Goals</text><g transform="translate(-219.50,3.0)"><rect x="0.2" y="-4.7" width="2.8" height="5.7" rx="0.5" fill="#111"/><path d="M3.9,-4.9 L4.6,-5.8 L5.9,-8.1 Q6.5,-8.9 7.0,-8.2 L7.2,-5.5 L10.1,-5.4 Q10.9,-5.2 10.7,-4.4 L9.7,-0.3 Q9.4,0.5 8.6,0.5 L5.3,0.5 L3.9,-0.3 Z" fill="#fff" stroke="#111" stroke-width="1.05" stroke-linejoin="round"/></g></g>
<g transform="translate(334.35,347.0) rotate(25.082)"><text x="-296.43" y="3.0" font-size="11.4" textLength="74.33" lengthAdjust="spacingAndGlyphs" fill="#262626">Welfare State</text><g transform="translate(-219.50,3.0)"><rect x="0.2" y="-7.2" width="2.8" height="5.7" rx="0.5" fill="#111"/><rect x="4.0" y="-8.3" width="7.2" height="6.4" rx="2.0" fill="#111"/><path d="M6.3,-3.0 L6.9,0.2" stroke="#111" stroke-width="1.7" stroke-linecap="round"/></g></g>
<g transform="translate(334.35,347.0) rotate(30.984)"><text x="-322.15" y="3.0" font-size="11.4" textLength="100.05" lengthAdjust="spacingAndGlyphs" fill="#262626">Market Regulation</text><g transform="translate(-219.50,3.0)"><rect x="0.2" y="-4.7" width="2.8" height="5.7" rx="0.5" fill="#111"/><path d="M3.9,-4.9 L4.6,-5.8 L5.9,-8.1 Q6.5,-8.9 7.0,-8.2 L7.2,-5.5 L10.1,-5.4 Q10.9,-5.2 10.7,-4.4 L9.7,-0.3 Q9.4,0.5 8.6,0.5 L5.3,0.5 L3.9,-0.3 Z" fill="#fff" stroke="#111" stroke-width="1.05" stroke-linejoin="round"/></g></g>
<g transform="translate(334.35,347.0) rotate(36.885)"><text x="-348.38" y="3.0" font-size="11.4" textLength="126.28" lengthAdjust="spacingAndGlyphs" fill="#262626">Supply-side Economics</text><g transform="translate(-219.50,3.0)"><rect x="0.2" y="-4.7" width="2.8" height="5.7" rx="0.5" fill="#111"/><path d="M3.9,-4.9 L4.6,-5.8 L5.9,-8.1 Q6.5,-8.9 7.0,-8.2 L7.2,-5.5 L10.1,-5.4 Q10.9,-5.2 10.7,-4.4 L9.7,-0.3 Q9.4,0.5 8.6,0.5 L5.3,0.5 L3.9,-0.3 Z" fill="#fff" stroke="#111" stroke-width="1.05" stroke-linejoin="round"/></g></g>
<g transform="translate(334.35,347.0) rotate(42.787)"><text x="-357.73" y="3.0" font-size="11.4" textLength="135.63" lengthAdjust="spacingAndGlyphs" fill="#262626">Demand-side Economics</text><g transform="translate(-219.50,3.0)"><rect x="0.2" y="-4.7" width="2.8" height="5.7" rx="0.5" fill="#111"/><path d="M3.9,-4.9 L4.6,-5.8 L5.9,-8.1 Q6.5,-8.9 7.0,-8.2 L7.2,-5.5 L10.1,-5.4 Q10.9,-5.2 10.7,-4.4 L9.7,-0.3 Q9.4,0.5 8.6,0.5 L5.3,0.5 L3.9,-0.3 Z" fill="#fff" stroke="#111" stroke-width="1.05" stroke-linejoin="round"/></g></g>
<g transform="translate(334.35,347.0) rotate(48.689)"><text x="-308.72" y="3.0" font-size="11.4" textLength="86.62" lengthAdjust="spacingAndGlyphs" fill="#262626">Mixed Economy</text><g transform="translate(-219.50,3.0)"><rect x="0.2" y="-4.7" width="2.8" height="5.7" rx="0.5" fill="#111"/><path d="M3.9,-4.9 L4.6,-5.8 L5.9,-8.1 Q6.5,-8.9 7.0,-8.2 L7.2,-5.5 L10.1,-5.4 Q10.9,-5.2 10.7,-4.4 L9.7,-0.3 Q9.4,0.5 8.6,0.5 L5.3,0.5 L3.9,-0.3 Z" fill="#fff" stroke="#111" stroke-width="1.05" stroke-linejoin="round"/></g></g>
<g transform="translate(334.35,347.0) rotate(54.590)"><text x="-318.66" y="3.0" font-size="11.4" textLength="96.56" lengthAdjust="spacingAndGlyphs" fill="#262626">Economic Growth</text><g transform="translate(-219.50,3.0)"><rect x="0.2" y="-4.7" width="2.8" height="5.7" rx="0.5" fill="#111"/><path d="M3.9,-4.9 L4.6,-5.8 L5.9,-8.1 Q6.5,-8.9 7.0,-8.2 L7.2,-5.5 L10.1,-5.4 Q10.9,-5.2 10.7,-4.4 L9.7,-0.3 Q9.4,0.5 8.6,0.5 L5.3,0.5 L3.9,-0.3 Z" fill="#fff" stroke="#111" stroke-width="1.05" stroke-linejoin="round"/></g></g>
<g transform="translate(334.35,347.0) rotate(60.492)"><text x="-336.70" y="3.0" font-size="11.4" textLength="114.60" lengthAdjust="spacingAndGlyphs" fill="#262626">Efficient Governance</text><g transform="translate(-219.50,3.0)"><rect x="0.2" y="-4.7" width="2.8" height="5.7" rx="0.5" fill="#111"/><path d="M3.9,-4.9 L4.6,-5.8 L5.9,-8.1 Q6.5,-8.9 7.0,-8.2 L7.2,-5.5 L10.1,-5.4 Q10.9,-5.2 10.7,-4.4 L9.7,-0.3 Q9.4,0.5 8.6,0.5 L5.3,0.5 L3.9,-0.3 Z" fill="#fff" stroke="#111" stroke-width="1.05" stroke-linejoin="round"/></g></g>
<g transform="translate(334.35,347.0) rotate(66.393)"><text x="-262.85" y="3.0" font-size="11.4" textLength="40.75" lengthAdjust="spacingAndGlyphs" fill="#262626">Military</text><g transform="translate(-219.50,3.0)"><rect x="0.2" y="-7.2" width="2.8" height="5.7" rx="0.5" fill="#111"/><rect x="4.0" y="-8.3" width="7.2" height="6.4" rx="2.0" fill="#111"/><path d="M6.3,-3.0 L6.9,0.2" stroke="#111" stroke-width="1.7" stroke-linecap="round"/></g></g>
<g transform="translate(334.35,347.0) rotate(72.295)"><text x="-290.85" y="3.0" font-size="11.4" textLength="68.75" lengthAdjust="spacingAndGlyphs" fill="#262626">Russia/USSR</text><g transform="translate(-219.50,3.0)"><rect x="0.2" y="-7.2" width="2.8" height="5.7" rx="0.5" fill="#111"/><rect x="4.0" y="-8.3" width="7.2" height="6.4" rx="2.0" fill="#111"/><path d="M6.3,-3.0 L6.9,0.2" stroke="#111" stroke-width="1.7" stroke-linecap="round"/></g></g>
<g transform="translate(334.35,347.0) rotate(78.197)"><text x="-332.28" y="3.0" font-size="11.4" textLength="110.18" lengthAdjust="spacingAndGlyphs" fill="#262626">National Way of Life</text><g transform="translate(-219.50,3.0)"><rect x="0.2" y="-7.2" width="2.8" height="5.7" rx="0.5" fill="#111"/><rect x="4.0" y="-8.3" width="7.2" height="6.4" rx="2.0" fill="#111"/><path d="M6.3,-3.0 L6.9,0.2" stroke="#111" stroke-width="1.7" stroke-linecap="round"/></g></g>
<g transform="translate(334.35,347.0) rotate(84.098)"><text x="-287.01" y="3.0" font-size="11.4" textLength="64.91" lengthAdjust="spacingAndGlyphs" fill="#262626">China (PRC)</text><g transform="translate(-219.50,3.0)"><rect x="0.2" y="-7.2" width="2.8" height="5.7" rx="0.5" fill="#111"/><rect x="4.0" y="-8.3" width="7.2" height="6.4" rx="2.0" fill="#111"/><path d="M6.3,-3.0 L6.9,0.2" stroke="#111" stroke-width="1.7" stroke-linecap="round"/></g></g>
<line x1="43.9" y1="5.5" x2="72.0" y2="5.5" stroke="#e41a1c" stroke-width="2.1"/>
<text x="82.10" y="9.8" font-size="13.6" textLength="108.51" lengthAdjust="spacingAndGlyphs" fill="#262626">Arabic Countries</text>
<line x1="217.1" y1="5.5" x2="245.2" y2="5.5" stroke="#377eb8" stroke-width="2.1"/>
<text x="255.30" y="9.8" font-size="13.6" textLength="77.30" lengthAdjust="spacingAndGlyphs" fill="#262626">China (PRC)</text>
<line x1="358.5" y1="5.5" x2="386.6" y2="5.5" stroke="#ff7f00" stroke-width="2.1"/>
<text x="396.70" y="9.8" font-size="13.6" textLength="42.13" lengthAdjust="spacingAndGlyphs" fill="#262626">Russia</text>
<line x1="465.5" y1="5.5" x2="493.6" y2="5.5" stroke="#4daf4a" stroke-width="2.1"/>
<text x="503.70" y="9.8" font-size="13.6" textLength="120.70" lengthAdjust="spacingAndGlyphs" fill="#262626">Western Countries</text>
</svg></body></html>
